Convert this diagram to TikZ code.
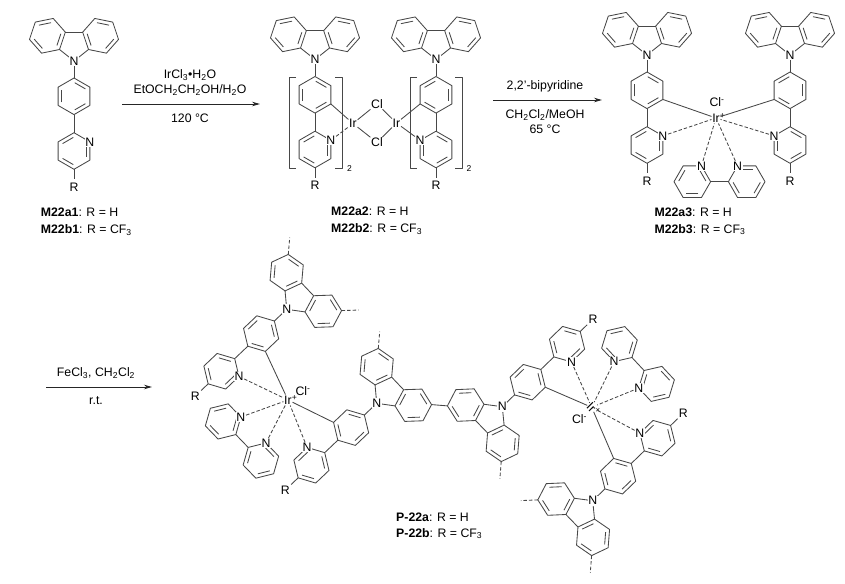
\documentclass[tikz,border=0pt]{standalone}
\usepackage{fontspec}
\setmainfont{Liberation Sans}
\usetikzlibrary{arrows.meta}

\newcommand{\ringr}{18.3}
% ring: centre, angle of first corner, sides with an inner line
\newcommand{\hexring}[3]{
	\begin{scope}[shift={(#1)}]
		\draw [bond] (#2:\ringr) -- (#2+60:\ringr) -- (#2+120:\ringr) -- (#2+180:\ringr) -- (#2+240:\ringr) -- (#2+300:\ringr) -- cycle;
		\foreach \k in {#3} {
			\draw [bond] (#2+60*\k+3:13.6) -- (#2+60*\k+57:13.6);
		}
	\end{scope}
}

\tikzset{
	bond/.style={draw=black!72,line width=0.85pt,line join=round},
	dbond/.style={bond,dash pattern=on 3.5pt off 2pt},
	rxn/.style={draw=black!85,line width=0.85pt,-{Stealth[length=8pt,width=4.5pt]}},
	atom/.style={fill=white,inner sep=0.6pt,font=\fontsize{12.3}{14}\selectfont},
	metal/.style={inner sep=0.6pt,font=\fontsize{12.3}{14}\selectfont},
	lbl/.style={inner sep=0pt,font=\fontsize{12.3}{14}\selectfont},
	ligand/.pic={
		\hexring{-26.6,-25.2}{-11.5}{0,2,4}
		\hexring{26.6,-25.2}{191.5}{1,3,5}
		\draw [bond] (-8.7,-28.85) -- (8.7,-28.85);
		\draw [bond] (-14.5,-11.5) -- (0,0) -- (14.5,-11.5);
		\hexring{0,35.3}{270}{0,2,4}
		\hexring{0,90}{270}{1,3,5}
		\draw [bond] (0,0) -- (0,17);
		\draw [bond] (0,53.6) -- (0,71.7);
		\draw [bond] (0,108.3) -- (0,118);
		\node [atom] (-N) at (0,0) {N};
		\node [atom] (-Py) at (15.85,80.85) {N};
		\node [lbl] (-R) at (0,126) {R};
		\coordinate (-Ph) at (15.85,44.45);
		\coordinate (-sa) at (-38.7,-38.9);
		\coordinate (-sb) at (38.7,-38.9);
		\coordinate (-ea) at (-50,-51.6);
		\coordinate (-eb) at (50,-51.6);
	},
	bipy/.pic={
		\hexring{-27.2,0}{0}{1,3,5}
		\hexring{27.2,0}{0}{0,2,4}
		\draw [bond] (-8.9,0) -- (8.9,0);
		\node [atom] (-a) at (-18.05,-15.85) {N};
		\node [atom] (-b) at (18.05,-15.85) {N};
	}
}

\begin{document}
\begin{tikzpicture}[x=1pt,y=-1pt]
	\useasboundingbox (0,0) rectangle (845,583);

	% first row
	\pic (a1) at (74,61) {ligand};

	\pic (a2l) at (315,59.5) {ligand};
	\pic [xscale=-1] (a2r) at (436,59.5) {ligand};
	\node [metal] (Ira) at (353,123.5) {Ir};
	\node [metal] (Irb) at (396.5,123) {Ir};
	\node [metal] (Cla) at (377,104) {Cl};
	\node [metal] (Clb) at (377,142.5) {Cl};
	\draw [bond] (a2l-Ph) -- (Ira);
	\draw [dbond] (a2l-Py) -- (Ira);
	\draw [bond] (a2r-Ph) -- (Irb);
	\draw [bond] (a2r-Py) -- (Irb);
	\draw [bond] (Ira) -- (Cla);
	\draw [bond] (Ira) -- (Clb);
	\draw [bond] (Irb) -- (Cla);
	\draw [bond] (Irb) -- (Clb);
	\draw [bond] (296,77) -- (289,77) -- (289,168) -- (296,168);
	\draw [bond] (335,77) -- (342,77) -- (342,168) -- (335,168);
	\draw [bond] (417,77) -- (410,77) -- (410,168) -- (417,168);
	\draw [bond] (455,77) -- (462,77) -- (462,168) -- (455,168);
	\node [lbl,font=\fontsize{8.5}{10}\selectfont] (suba) at (349.5,168.5) {2};
	\node [lbl,font=\fontsize{8.5}{10}\selectfont] (subb) at (469,168.5) {2};

	\pic (a3l) at (647,55) {ligand};
	\pic [xscale=-1] (a3r) at (790,55) {ligand};
	\pic (a3b) at (719.5,181.7) {bipy};
	\node [metal] (Irc) at (716,118) {Ir\rlap{\textsuperscript{+}}};
	\node [metal] (Clc) at (717,102) {Cl\textsuperscript{-}};
	\foreach \from in {a3l-Ph,a3r-Ph} {
		\draw [bond] (\from) -- (Irc);
	}
	\foreach \from in {a3l-Py,a3r-Py,a3b-a,a3b-b} {
		\draw [dbond] (\from) -- (Irc);
	}

	% polymer
	\pic [rotate=-46.5] (p1) at (286.7,309.3) {ligand};
	\pic [rotate=-46.5,xscale=-1] (p2) at (376.7,403.3) {ligand};
	\pic [rotate=134,xscale=-1] (p3) at (502.3,406.7) {ligand};
	\pic [rotate=134] (p4) at (592.7,500.7) {ligand};
	\pic [rotate=-46] (p5) at (242,441) {bipy};
	\pic [rotate=133] (p6) at (638,364) {bipy};
	\node [metal] (Ird) at (288,400) {Ir\rlap{\textsuperscript{+}}};
	\node [metal] (Cld) at (303,391) {Cl\textsuperscript{-}};
	\node [metal,rotate=-45] (Ire) at (591.7,407.3) {Ir\rlap{\textsuperscript{+}}};
	\node [metal] (Cle) at (579.5,419) {Cl\textsuperscript{-}};
	\draw [bond] (p1-Ph) -- (Ird);
	\draw [bond] (p2-Ph) -- (Ird);
	\draw [bond] (p3-Ph) -- (Ire);
	\draw [bond] (p4-Ph) -- (Ire);
	\foreach \from in {p1-Py,p2-Py,p5-a,p5-b} {
		\draw [dbond] (\from) -- (Ird);
	}
	\foreach \from in {p3-Py,p4-Py,p6-a,p6-b} {
		\draw [dbond] (\from) -- (Ire);
	}
	\draw [bond] (p2-sa) -- (p3-sa);
	\draw [dbond] (p1-sa) -- (p1-ea);
	\draw [dbond] (p1-sb) -- (p1-eb);
	\draw [dbond] (p2-sb) -- (p2-eb);
	\draw [dbond] (p3-sb) -- (p3-eb);
	\draw [dbond] (p4-sa) -- (p4-ea);
	\draw [dbond] (p4-sb) -- (p4-eb);

	% arrows and conditions
	\coordinate (ra1) at (122,104);
	\coordinate (ra2) at (260,104);
	\draw [rxn] (ra1) -- (ra2);
	\node [lbl] (ca1) at (190,75) {IrCl\textsubscript{3}•H\textsubscript{2}O};
	\node [lbl] (ca2) at (190,90) {EtOCH\textsubscript{2}CH\textsubscript{2}OH/H\textsubscript{2}O};
	\node [lbl] (ca3) at (190,118) {120 °C};

	\coordinate (rb1) at (493,100);
	\coordinate (rb2) at (602,100);
	\draw [rxn] (rb1) -- (rb2);
	\node [lbl] (cb1) at (545,86) {2,2'-bipyridine};
	\node [lbl] (cb2) at (545,115) {CH\textsubscript{2}Cl\textsubscript{2}/MeOH};
	\node [lbl] (cb3) at (545,129) {65 °C};

	\coordinate (rc1) at (46,387);
	\coordinate (rc2) at (152,387);
	\draw [rxn] (rc1) -- (rc2);
	\node [lbl] (cc1) at (96,373) {FeCl\textsubscript{3}, CH\textsubscript{2}Cl\textsubscript{2}};
	\node [lbl] (cc2) at (96,401) {r.t.};

	% compound names
	\begin{scope}[every node/.style={lbl,anchor=base west}]
		\node (na1) at (40.7,216.5) {\textbf{M22a1}: R = H};
		\node (nb1) at (40.7,233.5) {\textbf{M22b1}: R = CF\textsubscript{3}};
		\node (na2) at (331,215.5) {\textbf{M22a2}: R = H};
		\node (nb2) at (331,232.5) {\textbf{M22b2}: R = CF\textsubscript{3}};
		\node (na3) at (654.3,216) {\textbf{M22a3}: R = H};
		\node (nb3) at (654.3,233) {\textbf{M22b3}: R = CF\textsubscript{3}};
		\node (np1) at (396,521) {\textbf{P-22a}: R = H};
		\node (np2) at (396,537) {\textbf{P-22b}: R = CF\textsubscript{3}};
	\end{scope}
\end{tikzpicture}
\end{document}
